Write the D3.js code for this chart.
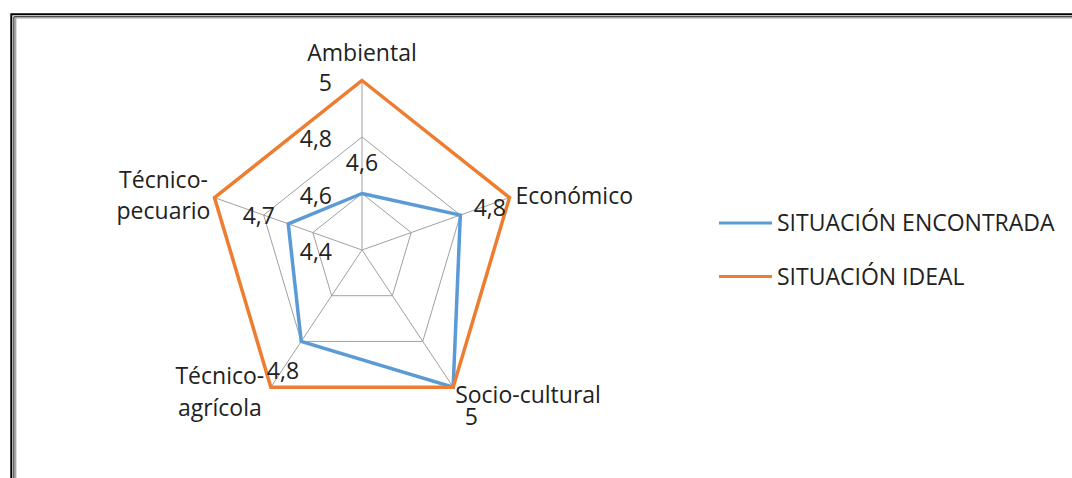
<!DOCTYPE html>
<html>
<head>
<meta charset="utf-8">
<script src="https://cdn.jsdelivr.net/npm/d3@7"></script>
<style>
    body { margin: 0; background: #fff; }
    text { font-family: "Open Sans", sans-serif; fill: #222; }
</style>
</head>
<body>
<div id="chart"></div>
<script>
const categories = [["Ambiental"], ["Económico"], ["Socio-cultural"], ["Técnico-", "agrícola"], ["Técnico-", "pecuario"]];
const seriesNames = ["SITUACIÓN ENCONTRADA", "SITUACIÓN IDEAL"];
const encontrada = [4.6, 4.8, 5, 4.8, 4.7];
const ideal = [5, 5, 5, 5, 5];
const tickValues = [4.4, 4.6, 4.8, 5];
const tickLabels = ["4,4", "4,6", "4,8", "5"];
const colors = ["#5B9BD5", "#ED7D31"];

document.addEventListener("DOMContentLoaded", function() {
    renderRadar();
});

function renderRadar() {
    const width = 1072;
    const height = 478;

    const cx = 362;
    const cy = 250;
    const radius = 169.5;
    const squash = 0.915; // the original picture is a bit narrower than tall

    const svg = d3.select("#chart")
        .append("svg")
        .attr("width", width)
        .attr("height", height);

    // double frame around the chart
    const frame = svg.append("g").attr("fill", "none");
    frame.append("path").attr("d", "M11.3,480V14.3H1080").attr("stroke", "#000").attr("stroke-width", 2);
    frame.append("path").attr("d", "M13.9,480V16.8H1080").attr("stroke", "#000").attr("stroke-width", 1);
    frame.append("path").attr("d", "M15.6,480V17.8H1080").attr("stroke", "#a6a6a6").attr("stroke-width", 1.6);

    const rScale = d3.scaleLinear()
        .domain([tickValues[0], tickValues[tickValues.length - 1]])
        .range([0, radius]);

    const angle = i => i * 2 * Math.PI / categories.length;
    const point = (v, i) => [cx + squash * rScale(v) * Math.sin(angle(i)), cy - rScale(v) * Math.cos(angle(i))];

    const line = d3.line().curve(d3.curveLinearClosed);

    // grid rings and spokes
    const grid = svg.append("g").attr("fill", "none").attr("stroke", "#a0a0a0").attr("stroke-width", 1);
    tickValues.slice(1).forEach(t => {
        grid.append("path").attr("d", line(categories.map((c, i) => point(t, i))));
    });
    categories.forEach((c, i) => {
        const p = point(tickValues[tickValues.length - 1], i);
        grid.append("line").attr("x1", cx).attr("y1", cy).attr("x2", p[0]).attr("y2", p[1]);
    });

    // axis labels along the first spoke
    svg.selectAll(".tick-label")
        .data(tickValues)
        .enter()
        .append("text")
        .attr("class", "tick-label")
        .attr("x", cx - 30)
        .attr("y", d => cy - rScale(d) + 2)
        .attr("dy", "0.36em")
        .attr("text-anchor", "end")
        .style("font-size", "23px")
        .text((d, i) => tickLabels[i]);

    // series
    [encontrada, ideal].forEach((values, s) => {
        svg.append("path")
            .attr("d", line(values.map((v, i) => point(v, i))))
            .attr("fill", "none")
            .attr("stroke", colors[s])
            .attr("stroke-width", 3.5)
            .attr("stroke-linejoin", "miter");
    });

    // data labels for the measured series, pushed out along each spoke
    svg.selectAll(".data-label")
        .data(encontrada)
        .enter()
        .append("text")
        .attr("class", "data-label")
        .attr("x", (d, i) => point(d, i)[0] + 31 * Math.sin(angle(i)))
        .attr("y", (d, i) => point(d, i)[1] - 31 * Math.cos(angle(i)) + 2.5 * (1 - Math.cos(angle(i))))
        .attr("dy", "0.36em")
        .attr("text-anchor", "middle")
        .style("font-size", "23px")
        .text(d => tickLabels[tickValues.indexOf(d)] || String(d).replace(".", ","));

    // category labels
    const outer = tickValues[tickValues.length - 1];
    categories.forEach((lines, i) => {
        const p = point(outer, i);
        const s = Math.sin(angle(i));
        const c = Math.cos(angle(i));
        let x, y, anchor;
        if (Math.abs(s) < 0.01) {
            x = p[0]; y = p[1] - 20; anchor = "middle";
        } else if (s > 0) {
            anchor = "start";
            x = p[0] + (c > 0 ? 6 : 2);
            y = p[1] + (c > 0 ? 6 : 16);
        } else {
            anchor = "middle";
            x = p[0] - 51;
            y = p[1] + (c > 0 ? -10 : -3);
        }
        const label = svg.append("text")
            .attr("text-anchor", anchor)
            .style("font-size", "23px");
        lines.forEach((t, k) => {
            label.append("tspan").attr("x", x).attr("y", y + k * 31.6).text(t);
        });
    });

    // legend
    const legend = svg.append("g").attr("transform", "translate(719,223)");
    seriesNames.forEach((name, i) => {
        const row = legend.append("g").attr("transform", `translate(0,${i * 53.5})`);
        row.append("line")
            .attr("x1", 0).attr("x2", 53)
            .attr("stroke", colors[i])
            .attr("stroke-width", 3);
        row.append("text")
            .attr("x", 58)
            .attr("y", 0)
            .attr("dy", "0.36em")
            .style("font-size", "23px")
            .text(name);
    });
}
</script>
</body>
</html>
